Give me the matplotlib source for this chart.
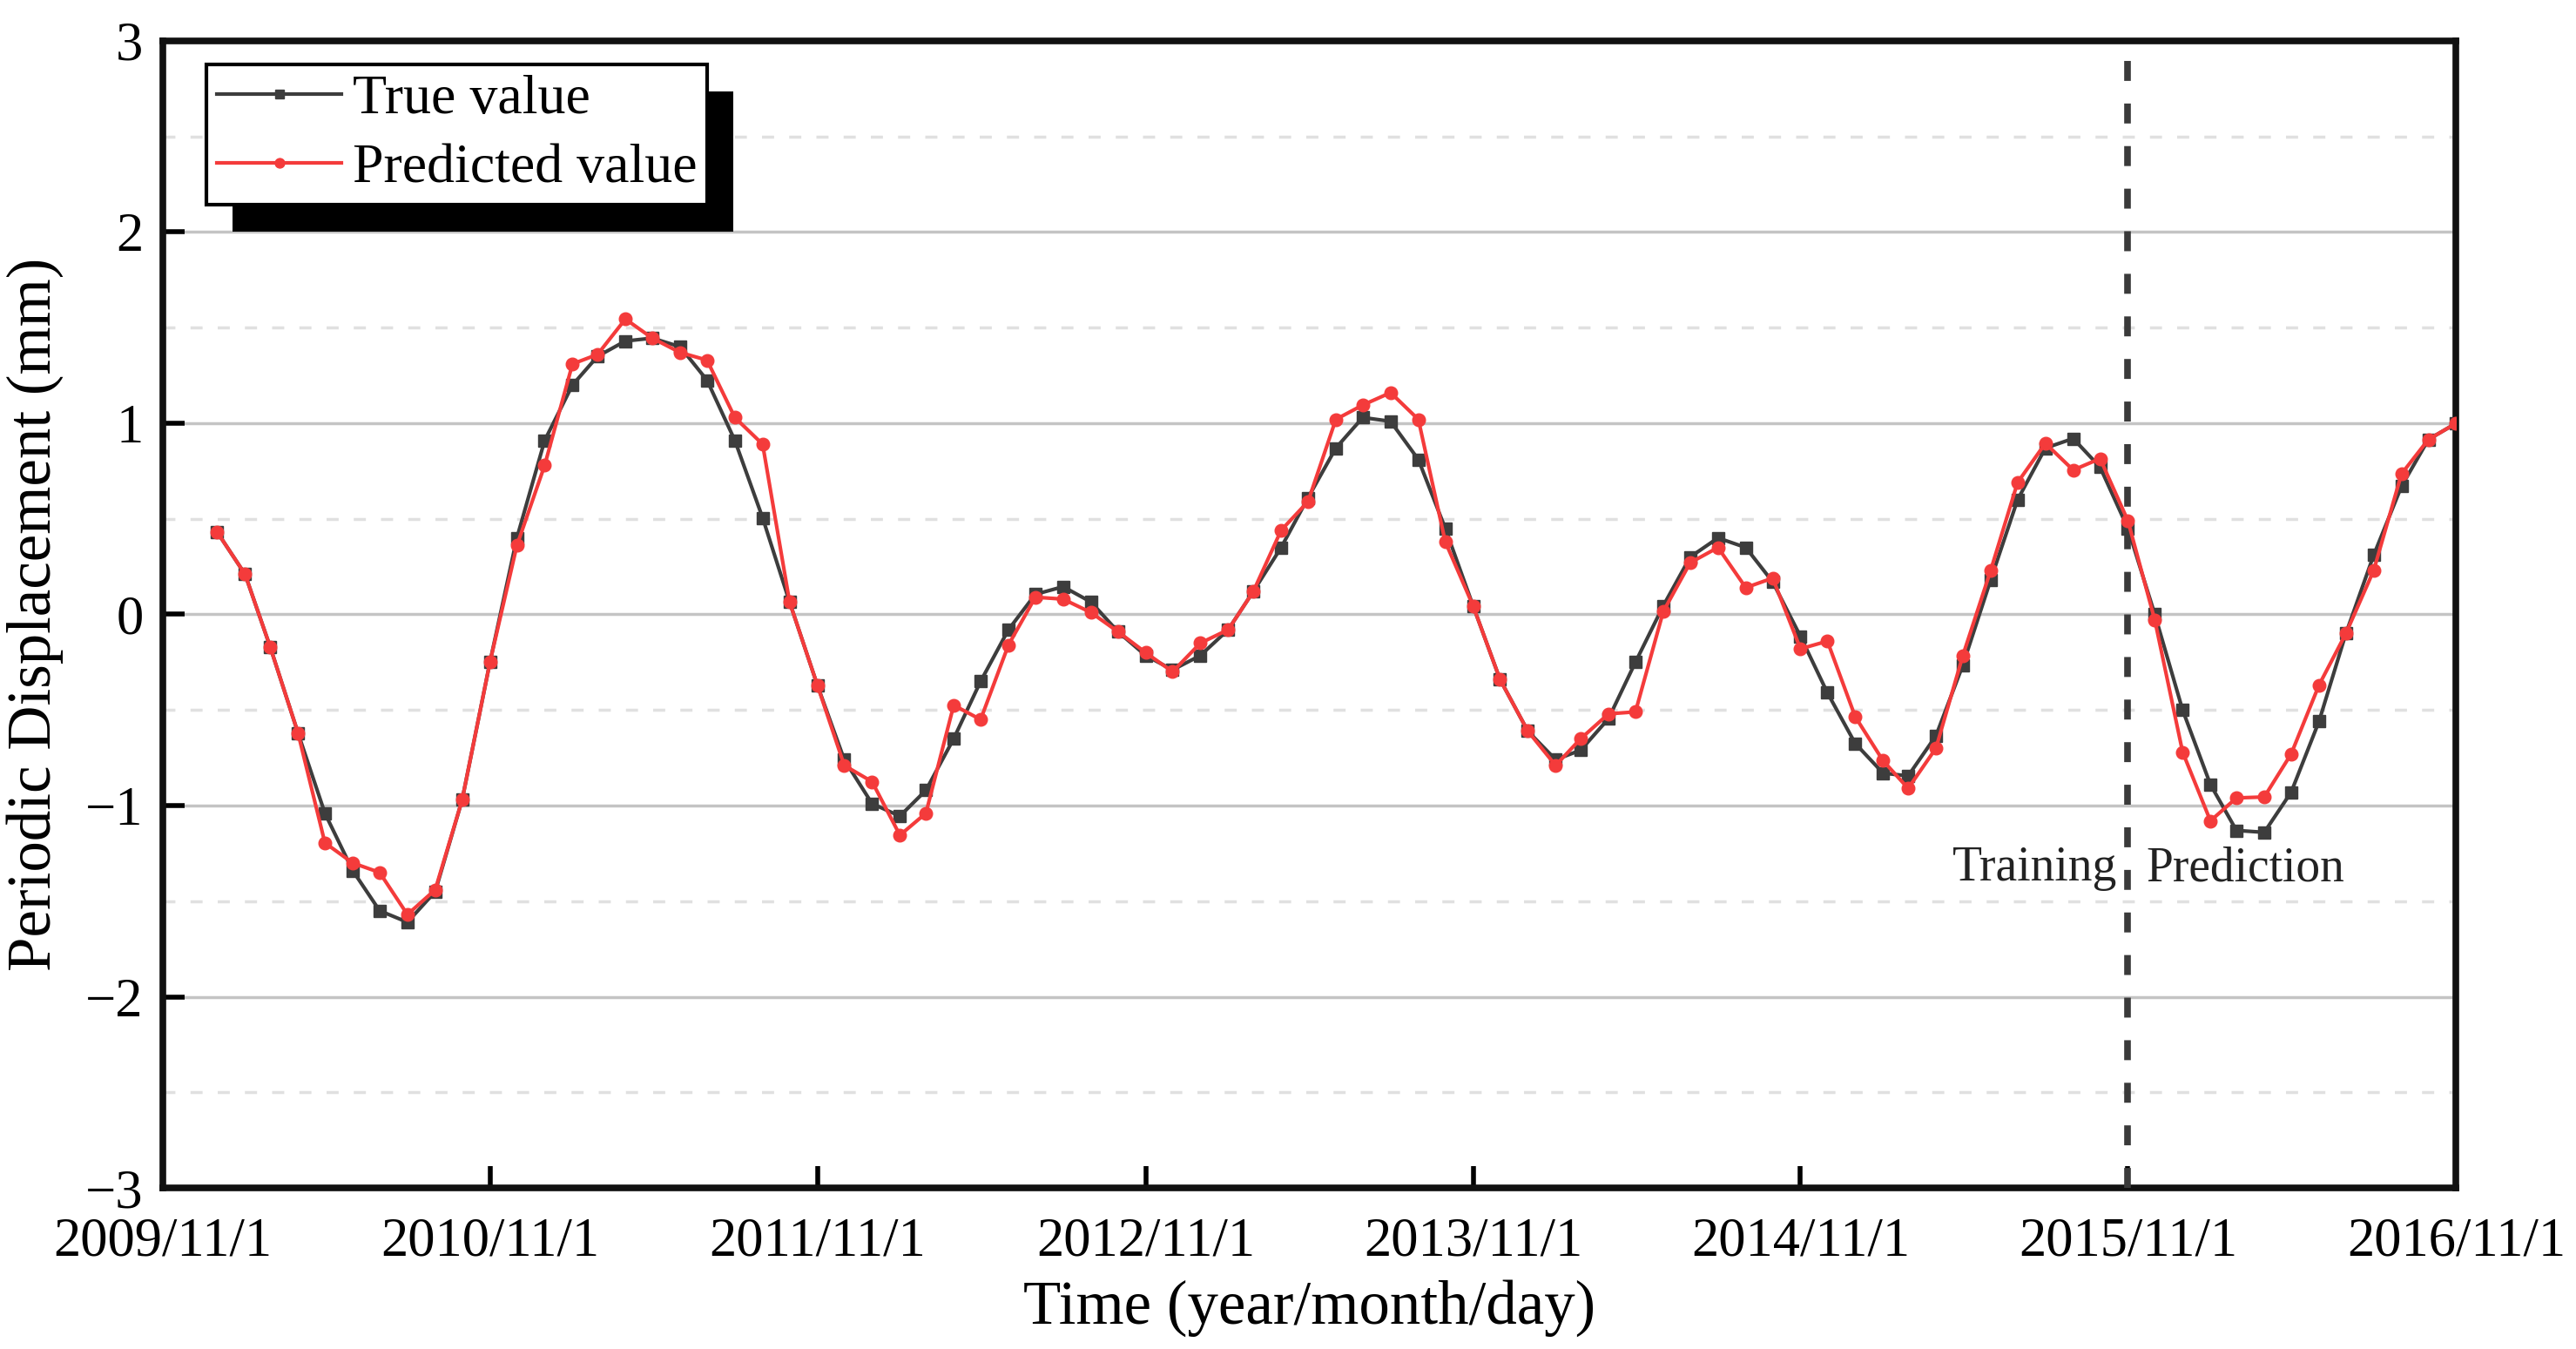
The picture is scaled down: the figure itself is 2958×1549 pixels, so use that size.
import pandas as pd
import matplotlib.pyplot as plt
from matplotlib.patches import Rectangle
from matplotlib.transforms import IdentityTransform

plt.rcParams['font.family'] = ['Liberation Serif', 'DejaVu Serif']

# -----------------------------
# Data (monthly, 2010/1 - 2016/11)
# -----------------------------

dates = pd.date_range("2010-01-01", periods=83, freq="MS")

true_value = [
    0.43, 0.21, -0.17, -0.62, -1.04, -1.34, -1.55, -1.61, -1.45, -0.97,
    -0.25, 0.40, 0.91, 1.20, 1.35, 1.43, 1.445, 1.40, 1.225, 0.91,
    0.505, 0.065, -0.37, -0.76, -0.99, -1.055, -0.92, -0.65, -0.35, -0.08,
    0.105, 0.145, 0.065, -0.09, -0.215, -0.29, -0.215, -0.08, 0.12, 0.35,
    0.61, 0.87, 1.03, 1.01, 0.81, 0.45, 0.045, -0.34, -0.61, -0.76,
    -0.71, -0.545, -0.25, 0.045, 0.30, 0.40, 0.35, 0.17, -0.115, -0.41,
    -0.675, -0.83, -0.845, -0.635, -0.265, 0.18, 0.60, 0.87, 0.92, 0.77,
    0.45, 0.0, -0.50, -0.89, -1.13, -1.14, -0.93, -0.56, -0.10, 0.31,
    0.67, 0.915, 1.0,
]

predicted_value = [
    0.43, 0.21, -0.17, -0.62, -1.195, -1.30, -1.35, -1.57, -1.44, -0.97,
    -0.25, 0.36, 0.78, 1.31, 1.36, 1.545, 1.445, 1.37, 1.33, 1.03,
    0.89, 0.065, -0.37, -0.79, -0.875, -1.155, -1.04, -0.475, -0.55, -0.16,
    0.09, 0.08, 0.01, -0.09, -0.20, -0.30, -0.15, -0.08, 0.12, 0.44,
    0.59, 1.02, 1.095, 1.16, 1.02, 0.38, 0.045, -0.34, -0.61, -0.79,
    -0.65, -0.52, -0.51, 0.015, 0.27, 0.35, 0.14, 0.19, -0.18, -0.14,
    -0.535, -0.765, -0.91, -0.70, -0.215, 0.23, 0.69, 0.895, 0.755, 0.815,
    0.49, -0.03, -0.72, -1.08, -0.96, -0.955, -0.73, -0.37, -0.10, 0.23,
    0.735, 0.915, 1.0,
]

tick_dates = pd.date_range("2009-11-01", periods=8, freq="12MS")
tick_labels = [
    "2009/11/1", "2010/11/1", "2011/11/1", "2012/11/1",
    "2013/11/1", "2014/11/1", "2015/11/1", "2016/11/1",
]
split_date = pd.Timestamp("2015-11-01")

# -----------------------------
# Figure
# -----------------------------

fig = plt.figure(figsize=(29.58, 15.49), dpi=100)
ax = fig.add_axes([0.0631, 0.1194, 0.8904, 0.8503])

ax.plot(
    dates, true_value,
    color="#3d3d3d", linewidth=3,
    marker="s", markersize=10.5,
    label="True value", zorder=3
)
ax.plot(
    dates, predicted_value,
    color="#f43b3b", linewidth=3,
    marker="o", markersize=10.5,
    label="Predicted value", zorder=4
)

ax.axvline(
    split_date, color="#3a3a3a", linewidth=5.5,
    linestyle=(0, (3, 3.4)), zorder=3.5
)

ax.text(split_date - pd.Timedelta(days=12), -1.33, "Training",
        ha="right", va="center", fontsize=40, color="#222222")
ax.text(split_date + pd.Timedelta(days=20), -1.33, "Prediction",
        ha="left", va="center", fontsize=40, color="#222222")

ax.set_xlim(pd.Timestamp("2009-11-01"), pd.Timestamp("2016-11-01"))
ax.set_ylim(-3, 3)

ax.set_xticks(tick_dates)
ax.set_xticklabels(tick_labels)
ax.set_yticks([-3, -2, -1, 0, 1, 2, 3])
ax.set_yticklabels(["\u22123", "\u22122", "\u22121", "0", "1", "2", "3"])
ax.set_yticks([-2.5, -1.5, -0.5, 0.5, 1.5, 2.5], minor=True)

ax.tick_params(axis="both", which="major", direction="in",
               length=18, width=4, labelsize=45)
ax.tick_params(axis="x", which="major", pad=24)
ax.tick_params(axis="y", which="major", pad=16)
ax.tick_params(axis="y", which="minor", length=0)

ax.grid(axis="y", which="major", color="#c4c4c4", linewidth=2.5, zorder=0)
ax.grid(axis="y", which="minor", color="#e0e0e0", linewidth=2.5,
        linestyle=(0, (4, 5)), zorder=0)
ax.set_axisbelow(True)

for spine in ax.spines.values():
    spine.set_linewidth(5.5)
    spine.set_color("#111111")

ax.set_xlabel("Time (year/month/day)", fontsize=51, labelpad=10)
ax.set_ylabel("Periodic Displacement (mm)", fontsize=51, labelpad=18)

leg = ax.legend(
    loc="upper left", bbox_to_anchor=(0.0192, 0.9795),
    fontsize=46, frameon=True, fancybox=False,
    edgecolor="black", framealpha=1,
    borderpad=0.18, handlelength=2.25, handletextpad=0.2,
    labelspacing=0.32, borderaxespad=0, markerscale=0.75
)
leg.get_frame().set_linewidth(3)

# black offset shadow behind the legend box
fig.canvas.draw()
bb = leg.get_frame().get_window_extent(fig.canvas.get_renderer())
shadow = Rectangle(
    (bb.x0 + 30, bb.y0 - 31), bb.width, bb.height,
    transform=IdentityTransform(), facecolor="black",
    edgecolor="none", zorder=4.9
)
ax.add_artist(shadow)

fig.savefig("out.png", dpi=100)
